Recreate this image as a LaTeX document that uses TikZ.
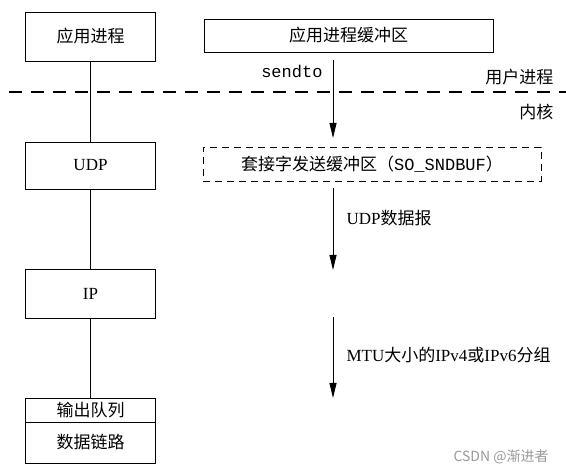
\documentclass[tikz,border=0pt]{standalone}
\usepackage{fontspec}
\setmainfont{Liberation Serif}
\setmonofont{Liberation Mono}
\newfontfamily\cjk{Noto Sans CJK SC}
\newfontfamily\marksans{Noto Sans CJK SC}
\usetikzlibrary{arrows.meta}

\begin{document}
\begin{tikzpicture}[x=1pt,y=-1pt,font=\fontsize{17}{20}\selectfont,
  layer/.style={draw,line width=0.9pt,minimum width=130pt,inner sep=0pt},
  sockbuf/.style={draw,line width=0.8pt,dash pattern=on 7pt off 5pt,minimum width=338pt,minimum height=34pt,inner sep=0pt},
  flow/.style={line width=0.9pt,-{Triangle[length=15pt,width=7pt]}},
  link/.style={line width=0.9pt}]

\useasboundingbox (0,0) rectangle (566,473);

% left column: layers
\node[layer,minimum height=49pt] (app) at (90.5,36.5) {\cjk 应用进程};
\node[layer,minimum height=47pt] (udp) at (90.5,165.5) {UDP};
\node[layer,minimum height=49pt] (ip) at (90.5,293.5) {IP};
\node[layer,minimum height=24pt] (queue) at (90.5,410) {\cjk 输出队列};
\node[layer,minimum height=41pt] (datalink) at (90.5,442.5) {\cjk 数据链路};

\draw[link] (app) -- (udp);
\draw[link] (udp) -- (ip);
\draw[link] (ip) -- (queue);

% user / kernel boundary
\coordinate (sepL) at (9,92);
\coordinate (sepR) at (566,92);
\draw[line width=1.2pt,dash pattern=on 13pt off 9pt] (sepL) -- (sepR);
\node[anchor=east] (user) at (557,77) {\cjk 用户进程};
\node[anchor=east] (kernel) at (557,112) {\cjk 内核};

% right column: buffers
\node[layer,minimum width=289pt,minimum height=33pt] (appbuf) at (348.5,35.5) {\cjk 应用进程缓冲区};
\node[sockbuf] (sndbuf) at (372,164) {\cjk 套接字发送缓冲区（{\ttfamily SO\_SNDBUF}）};

\coordinate (s1) at (333,60);
\coordinate (e1) at (333,138);
\coordinate (s2) at (333,188);
\coordinate (e2) at (333,270);
\coordinate (s3) at (333,317);
\coordinate (e3) at (333,398);

\draw[flow] (s1) -- (e1);
\draw[flow] (s2) -- (e2);
\draw[flow] (s3) -- (e3);

\node[anchor=east] (sendto) at (326,71) {\ttfamily sendto};
\node[anchor=west] (dgram) at (343,218) {UDP{\cjk 数据报}};
\node[anchor=west] (packet) at (343,355) {MTU{\cjk 大小的}IPv4{\cjk 或}IPv6{\cjk 分组}};

\node[anchor=west,text=gray!80,font=\marksans\fontsize{14}{16}\selectfont] (mark) at (450,457) {CSDN @渐进者};

\end{tikzpicture}
\end{document}
